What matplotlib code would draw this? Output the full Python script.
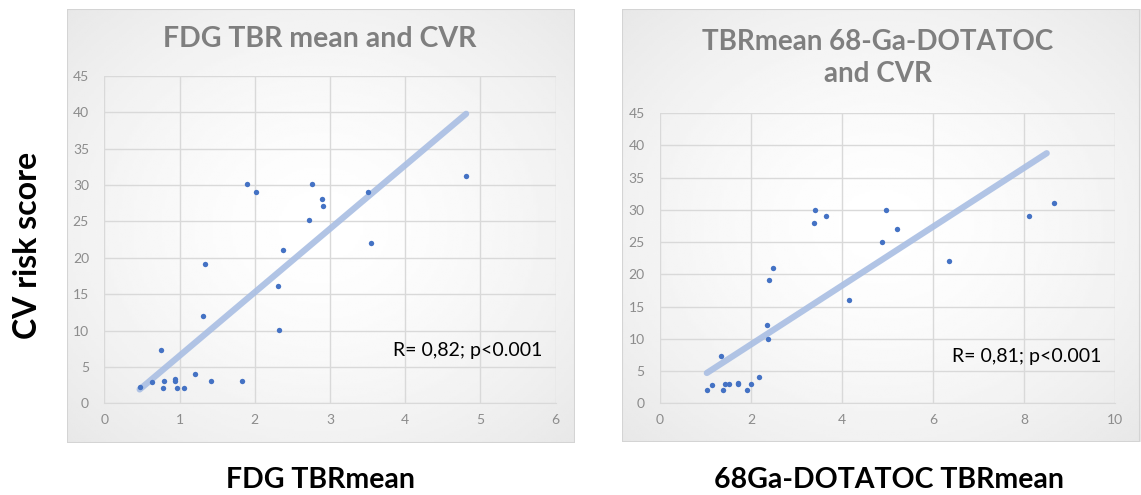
import numpy as np
import matplotlib.pyplot as plt
from matplotlib.patches import Rectangle

plt.rcParams['font.family'] = ['Lato', 'DejaVu Sans']

# FDG TBRmean vs CV risk score
fdg_x = [0.47, 0.63, 0.75, 0.78, 0.79, 0.94, 0.94, 0.97, 1.06, 1.21, 1.31, 1.34, 1.42,
         1.83, 1.90, 2.02, 2.31, 2.32, 2.38, 2.72, 2.76, 2.89, 2.91, 3.51, 3.54, 4.81]
fdg_y = [2.2, 2.9, 7.3, 2.1, 3.1, 3.3, 3.0, 2.1, 2.1, 4.0, 12.0, 19.1, 3.1,
         3.1, 30.1, 29.1, 16.1, 10.1, 21.1, 25.2, 30.1, 28.1, 27.1, 29.1, 22.0, 31.2]
fdg_trend_x = [0.47, 4.81]
fdg_trend_y = [1.9, 39.8]

# 68Ga-DOTATOC TBRmean vs CV risk score
dota_x = [1.03, 1.14, 1.35, 1.38, 1.42, 1.51, 1.71, 1.71, 1.91, 2.01, 2.18, 2.35, 2.38,
          2.40, 2.48, 3.38, 3.41, 3.65, 4.16, 4.88, 4.96, 5.22, 6.36, 8.12, 8.65]
dota_y = [2.1, 2.9, 7.3, 2.1, 3.0, 3.0, 3.2, 3.0, 2.1, 3.0, 4.1, 12.1, 10.0,
          19.1, 21.0, 28.0, 30.0, 29.1, 16.0, 25.0, 30.0, 27.1, 22.1, 29.1, 31.0]
dota_trend_x = [1.03, 8.50]
dota_trend_y = [4.7, 38.8]

fig = plt.figure(figsize=(11.41, 4.95), dpi=100)

# panel backgrounds with soft radial shading
yy, xx = np.mgrid[-1:1:200j, -1:1:200j]
shade = 1 - 0.09 * np.clip(np.sqrt(xx**2 + yy**2) / 1.4, 0, 1) ** 1.5
for box in ([0.0587, 0.105, 0.4452, 0.8768], [0.5451, 0.107, 0.4540, 0.8747]):
    bg = fig.add_axes(box, zorder=0)
    bg.imshow(shade, cmap='gray', vmin=0, vmax=1, aspect='auto', extent=[0, 1, 0, 1])
    bg.add_patch(Rectangle((0, 0), 1, 1, fill=False, edgecolor='#d4d4d4', lw=1.5))
    bg.set_axis_off()


def panel(rect, x, y, tx, ty, xmax, xstep, note):
    ax = fig.add_axes(rect, zorder=1)
    ax.patch.set_alpha(0)
    ax.scatter(x, y, s=15, color='#4472c4', zorder=3, linewidths=0)
    ax.plot(tx, ty, color='#a9bee3', lw=4.5, solid_capstyle='round', alpha=0.9, zorder=2)
    ax.set_xlim(0, xmax)
    ax.set_ylim(0, 45)
    ax.set_xticks(np.arange(0, xmax + 0.01, xstep))
    ax.set_yticks(np.arange(0, 46, 5))
    ax.grid(True, color='#d9d9d9', lw=1)
    ax.set_axisbelow(True)
    for s in ax.spines.values():
        s.set_visible(False)
    ax.spines['bottom'].set_visible(True)
    ax.spines['bottom'].set_color('#d9d9d9')
    ax.tick_params(length=0, labelsize=10, labelcolor='#8c8c8c')
    ax.tick_params(axis='x', pad=8)
    ax.tick_params(axis='y', pad=11)
    ax.text(0.97, 0.16, note, transform=ax.transAxes, ha='right', va='center',
            fontsize=14, color='black')
    return ax


axL = panel([0.0914, 0.1853, 0.3956, 0.6612], fdg_x, fdg_y, fdg_trend_x, fdg_trend_y,
            6, 1, 'R= 0,82; p<0.001')
axR = panel([0.5784, 0.1853, 0.3988, 0.5859], dota_x, dota_y, dota_trend_x, dota_trend_y,
            10, 2, 'R= 0,81; p<0.001')

fig.text(0.2805, 0.921, 'FDG TBR mean and CVR', ha='center', va='center',
         fontsize=20.5, fontweight='bold', color='#7f7f7f')
fig.text(0.7695, 0.883, 'TBRmean 68-Ga-DOTATOC\nand CVR', ha='center', va='center',
         fontsize=20, fontweight='bold', color='#7f7f7f', linespacing=1.3)

fig.text(0.281, 0.030, 'FDG TBRmean', ha='center', va='center',
         fontsize=20.5, fontweight='bold', color='black')
fig.text(0.779, 0.030, '68Ga-DOTATOC TBRmean', ha='center', va='center',
         fontsize=20.5, fontweight='bold', color='black')
fig.text(0.024, 0.505, 'CV risk score', ha='center', va='center', rotation=90,
         fontsize=23, fontweight='bold', color='black')

fig.savefig('out.png', dpi=100)
